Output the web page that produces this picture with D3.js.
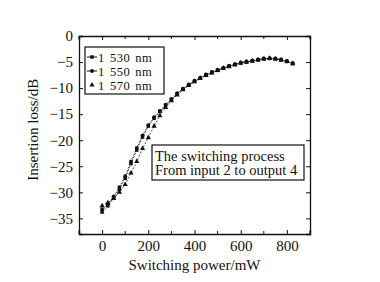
<!DOCTYPE html>
<html>
<head>
<meta charset="utf-8">
<script src="https://cdn.jsdelivr.net/npm/d3@7"></script>
<style>
	body { margin: 0; background: #fff; }
	text { font-family: "Liberation Serif", "Times New Roman", serif; fill: #111; }
</style>
</head>
<body>
<div id="chart"></div>
<script>

// switching power (mW)
var power = [0, 25, 50, 75, 100, 125, 150, 175, 200, 225, 250, 275, 300, 325, 350, 375, 400,
	425, 450, 475, 500, 525, 550, 575, 600, 625, 650, 675, 700, 725, 750, 775, 800, 825];

// insertion loss (dB)
var loss1530 = [-33.8, -32.6, -31.1, -29.4, -27.3, -24.5, -21.9, -19.4, -17.3, -15.8, -14.5, -13.3, -12.2, -11.1, -10.2, -9.4, -8.7,
	-8.1, -7.5, -7.0, -6.6, -6.2, -5.8, -5.5, -5.2, -5.0, -4.8, -4.6, -4.4, -4.3, -4.4, -4.6, -4.9, -5.3];
var loss1550 = [-33.3, -32.3, -30.8, -29.0, -26.9, -24.1, -21.5, -19.1, -17.1, -15.6, -14.4, -13.2, -12.1, -11.0, -10.1, -9.3, -8.6,
	-8.0, -7.4, -6.9, -6.5, -6.1, -5.7, -5.4, -5.1, -4.9, -4.7, -4.5, -4.3, -4.3, -4.3, -4.5, -4.8, -5.2];
var loss1570 = [-32.6, -32.0, -31.2, -30.0, -28.5, -26.3, -24.1, -21.6, -19.5, -17.3, -15.3, -13.7, -12.4, -11.3, -10.3, -9.5, -8.8,
	-8.1, -7.6, -7.1, -6.6, -6.2, -5.9, -5.5, -5.2, -5.0, -4.8, -4.6, -4.4, -4.3, -4.4, -4.6, -4.9, -5.3];

var series_names = ['1 530 nm', '1 550 nm', '1 570 nm'];
var series_vals = [loss1530, loss1550, loss1570];
var series_sym = [d3.symbolSquare, d3.symbolCircle, d3.symbolTriangle];

var x_ticks = [0, 200, 400, 600, 800];
var x_minor = [-100, 100, 300, 500, 700, 900];
var y_ticks = [0, -5, -10, -15, -20, -25, -30, -35];

var note_lines = ['The switching process', 'From input 2 to output 4'];

var width = 380, height = 282;
var margin = {left: 79, top: 36, right: 70, bottom: 48};
var w = width - margin.left - margin.right,
	h = height - margin.top - margin.bottom;

var svg = d3.select('#chart').append('svg')
	.attr('width', width)
	.attr('height', height);

var g = svg.append('g').attr('transform', 'translate(' + margin.left + ',' + margin.top + ')');

var x = d3.scaleLinear().domain([-100, 900]).range([0, w]);
var y = d3.scaleLinear().domain([-38, 0]).range([h, 0]);

function fmt(d) { return d < 0 ? '\u2212' + Math.abs(d) : '' + d; }

// bottom axis
var xb = g.append('g').attr('transform', 'translate(0,' + h + ')')
	.call(d3.axisBottom(x).tickValues(x_ticks).tickSize(-4).tickPadding(6).tickFormat(fmt));
xb.append('g').selectAll('line').data(x_minor).enter().append('line')
	.attr('x1', function(d){ return x(d); }).attr('x2', function(d){ return x(d); })
	.attr('y1', 0).attr('y2', -3).attr('stroke', '#111');

// top axis
var xt = g.append('g')
	.call(d3.axisTop(x).tickValues(x_ticks).tickSize(-4).tickFormat(''));
xt.append('g').selectAll('line').data(x_minor).enter().append('line')
	.attr('x1', function(d){ return x(d); }).attr('x2', function(d){ return x(d); })
	.attr('y1', 0).attr('y2', 3).attr('stroke', '#111');

// left + right axes
var yl = g.append('g')
	.call(d3.axisLeft(y).tickValues(y_ticks).tickSize(-4).tickPadding(6).tickFormat(fmt));
var yr = g.append('g').attr('transform', 'translate(' + w + ',0)')
	.call(d3.axisRight(y).tickValues(y_ticks).tickSize(-4).tickFormat(''));

g.selectAll('.domain').attr('stroke', '#111').attr('stroke-width', 1.3);
g.selectAll('.tick line').attr('stroke', '#111');
g.selectAll('.tick text').style('font-size', '15px').style('font-family', '"Liberation Serif", serif').attr('fill', '#111');

// curves
var line = d3.line()
	.x(function(d, i){ return x(power[i]); })
	.y(function(d){ return y(d); });

series_vals.forEach(function(vals, k){
	g.append('path').datum(vals)
		.attr('d', line)
		.attr('fill', 'none')
		.attr('stroke', '#222')
		.attr('stroke-width', 0.8)
		.attr('stroke-dasharray', '2,1.5');

	g.selectAll('.pt' + k).data(vals).enter().append('path')
		.attr('class', 'pt' + k)
		.attr('transform', function(d, i){ return 'translate(' + x(power[i]) + ',' + y(d) + ')'; })
		.attr('d', d3.symbol().type(series_sym[k]).size(12))
		.attr('fill', '#111');
});

// legend
var leg = g.append('g').attr('transform', 'translate(6,11)');
leg.append('rect').attr('width', 79).attr('height', 47)
	.attr('fill', '#fff').attr('stroke', '#111').attr('stroke-width', 1.2);
series_names.forEach(function(name, k){
	var row = leg.append('g').attr('transform', 'translate(0,' + (10 + k * 14) + ')');
	if (k < 2) {
		row.append('line').attr('x1', 2).attr('x2', 12).attr('y1', 0).attr('y2', 0)
			.attr('stroke', '#111').attr('stroke-width', 1);
	}
	row.append('path').attr('transform', 'translate(7,0)')
		.attr('d', d3.symbol().type(series_sym[k]).size(12)).attr('fill', '#111');
	row.append('text').attr('x', 13).attr('y', 4.5)
		.style('font-size', '12.5px').style('letter-spacing', '0.5px').style('word-spacing', '1.5px')
		.text(name);
});

// note box
var note = g.append('g').attr('transform', 'translate(' + 73 + ',' + 109 + ')');
note.append('rect').attr('width', 152).attr('height', 35)
	.attr('fill', '#fff').attr('stroke', '#111').attr('stroke-width', 1.2);
note_lines.forEach(function(t, k){
	note.append('text').attr('x', 3).attr('y', 15.5 + k * 14.5)
		.style('font-size', '14.5px').text(t);
});

// axis titles
svg.append('text')
	.attr('x', margin.left + x(400)).attr('y', 270)
	.attr('text-anchor', 'middle')
	.style('font-size', '15px')
	.text('Switching power/mW');

svg.append('text')
	.attr('transform', 'translate(38,' + (margin.top + y(-18)) + ') rotate(-90)')
	.attr('text-anchor', 'middle')
	.style('font-size', '15px')
	.text('Insertion loss/dB');

</script>
</body>
</html>
